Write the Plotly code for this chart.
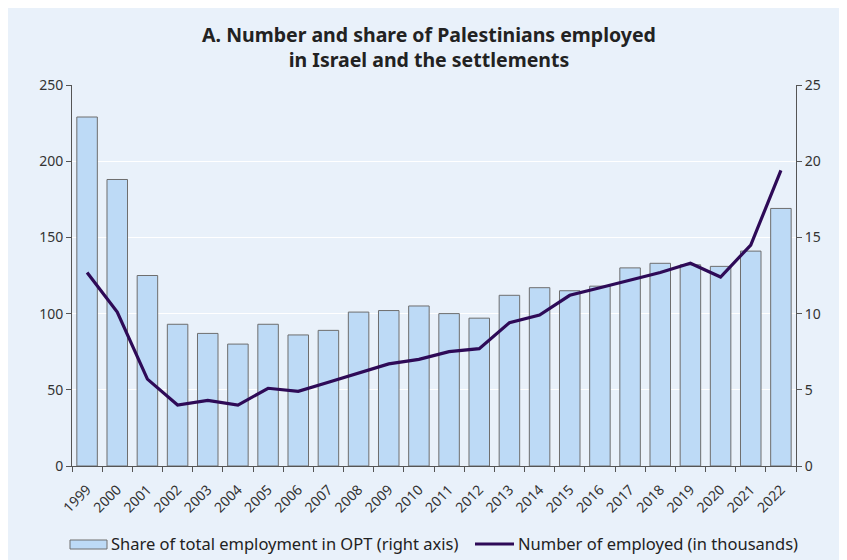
import plotly.graph_objects as go

# Palestinians employed in Israel and the settlements
anios = [str(a) for a in range(1999, 2023)]
participacion = [22.9, 18.8, 12.5, 9.3, 8.7, 8.0, 9.3, 8.6, 8.9, 10.1, 10.2, 10.5,
                 10.0, 9.7, 11.2, 11.7, 11.5, 11.8, 13.0, 13.3, 13.2, 13.1, 14.1, 16.9]
empleados = [127, 101, 57, 40, 43, 40, 51, 49, 55, 61, 67, 70,
             75, 77, 94, 99, 112, 117, 122, 127, 133, 124, 145, 194]
nombre_barras = "Share of total employment in OPT (right axis)"
nombre_linea = "Number of employed (in thousands)"

FONDO = "#E9F1FA"
AZUL_BARRA = "#BDDAF6"
BORDE = "#6E6E6E"
MORADO = "#2E0A57"
FUENTE = "Noto Sans"

# el body de la página añade 8px de margen: se compensa aquí
OFF = 8
W, H = 847, 560
pw, ph = 724, 381
L, T = 72 - OFF, 85 - OFF
R, B = W - L - pw, H - T - ph


def px(x):  # pixel de pantalla -> paper x
    return (x - OFF - L) / pw


def py(y):  # pixel de pantalla -> paper y
    return (T + ph - (y - OFF)) / ph


fig = go.Figure()

# barras en el eje derecho (yaxis), línea en el eje izquierdo (yaxis2) para que quede encima
fig.add_trace(go.Bar(
    x=anios, y=participacion, name=nombre_barras,
    marker=dict(color=AZUL_BARRA, line=dict(color=BORDE, width=1)),
    yaxis="y",
))
fig.add_trace(go.Scatter(
    x=anios, y=empleados, mode="lines", name=nombre_linea,
    line=dict(color=MORADO, width=3.2), yaxis="y2",
))

# Leyenda manual (símbolo ancho como en el original)
fig.add_shape(type="rect", xref="paper", yref="paper",
              x0=px(70), x1=px(107), y0=py(549), y1=py(540),
              fillcolor=AZUL_BARRA, line=dict(color=BORDE, width=1))
fig.add_shape(type="line", xref="paper", yref="paper",
              x0=px(475), x1=px(514), y0=py(544), y1=py(544),
              line=dict(color=MORADO, width=3))
fig.add_annotation(text=nombre_barras, xref="paper", yref="paper", x=px(109), y=py(543),
                   xanchor="left", yanchor="middle", showarrow=False,
                   font=dict(size=16.5, color="#222222"))
fig.add_annotation(text=nombre_linea, xref="paper", yref="paper", x=px(516), y=py(543),
                   xanchor="left", yanchor="middle", showarrow=False,
                   font=dict(size=16.5, color="#222222"))

fig.update_layout(
    width=W, height=H, margin=dict(l=L, r=R, t=T, b=B),
    paper_bgcolor=FONDO, plot_bgcolor=FONDO,
    font=dict(family=FUENTE, size=14, color="#333333"),
    title=dict(text="<b>A. Number and share of Palestinians employed<br>in Israel and the settlements</b>",
               x=(429 - OFF) / W, xanchor="center", y=1 - 34 / H, yanchor="top",
               font=dict(size=19.5, color="#222222")),
    bargap=0.32,
    showlegend=False,
    xaxis=dict(type="category", tickangle=-45, tickson="boundaries", ticks="outside",
               ticklen=5, tickcolor="#555555", showline=True, linecolor="#555555",
               showgrid=False, automargin=False, ticklabelstandoff=9,
               tickfont=dict(size=14, color="#333333")),
    yaxis=dict(side="right", range=[0, 25], dtick=5, showline=True, linecolor="#555555",
               ticks="outside", ticklen=5, tickcolor="#555555", showgrid=True,
               gridcolor="white", gridwidth=1.2, zeroline=False, automargin=False),
    yaxis2=dict(side="left", overlaying="y", range=[0, 250], dtick=50, showline=True,
                linecolor="#555555", ticks="outside", ticklen=5, tickcolor="#555555",
                showgrid=False, zeroline=False, automargin=False),
)

fig.write_html("out.html")
